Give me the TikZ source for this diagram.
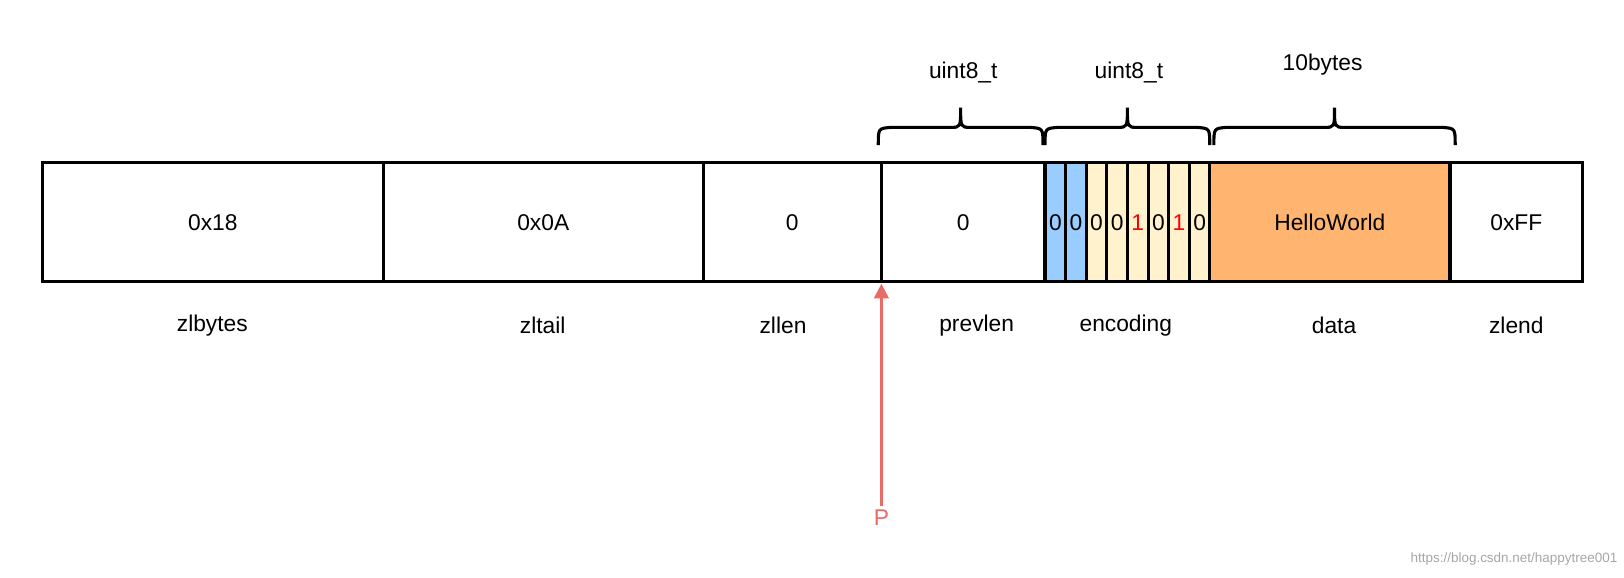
\documentclass[tikz,border=0pt]{standalone}
\usepackage{fontspec}
\usetikzlibrary{arrows.meta}
\setmainfont{Liberation Sans}
\begin{document}
\begin{tikzpicture}[x=1pt,y=-1pt,
  cell/.style={draw,line width=3pt,minimum height=115pt,inner sep=0pt,font=\fontsize{22}{26}\selectfont},
  lbl/.style={font=\fontsize{22}{26}\selectfont},
  brace/.style={line width=3pt}]
\useasboundingbox (0,0) rectangle (1568,558);
\definecolor{blu}{HTML}{99CCFF}\definecolor{crm}{HTML}{FFF2CC}\definecolor{org}{HTML}{FFB570}\definecolor{pred}{HTML}{EA6B66}
\node[cell,minimum width=329pt] (zb) at (205.5,214.5) {0x18};
\node[cell,minimum width=309pt] (zt) at (524.5,214.5) {0x0A};
\node[cell,minimum width=172pt] (zl) at (765,214.5) {0};
\node[cell,minimum width=158pt] (pl) at (930,214.5) {0};
\foreach \i/\c/\t/\col in {0/blu/0/black,1/blu/0/black,2/crm/0/black,3/crm/0/black,4/crm/1/red,5/crm/0/black,6/crm/1/red,7/crm/0/black}{
  \node[cell,fill=\c,minimum width=19.9pt,text=\col] (e\i) at (1018.95+19.9*\i,214.5) {\t};
}
\node[cell,fill=org,minimum width=232pt] (d) at (1284,214.5) {HelloWorld};
\node[cell,minimum width=128pt] (ze) at (1464,214.5) {0xFF};
\foreach \n/\x/\t in {a/205/zlbytes,b/524/zltail,c/756/zllen,d/943/prevlen,e/1087/encoding,f/1288/data,g/1464/zlend}
  \node[lbl] (l\n) at (\x,314) {\t};
\foreach \n/\a/\b in {1/848/1007,2/1009/1168,3/1172/1405}{
  \draw[brace] (\a,140) .. controls (\a,124) .. (\a+12,123) -- ({(\a+\b)/2-10},123) .. controls ({(\a+\b)/2},123) .. ({(\a+\b)/2},104) .. controls ({(\a+\b)/2},123) .. ({(\a+\b)/2+10},123) -- (\b-12,123) .. controls (\b,124) .. (\b,140);
}
\node[lbl] (u1) at (930,70) {uint8\_t};
\node[lbl] (u2) at (1090,70) {uint8\_t};
\node[lbl] (u3) at (1277,62) {10bytes};
\node[lbl,text=pred] (P) at (851,500) {P};
\coordinate (pt) at (851,274);
\draw[pred,line width=2.5pt,-{Triangle[length=14pt,width=14pt]}] (P.north) -- (pt);
\node[font=\fontsize{13}{15}\selectfont,text=black!35,anchor=east] (wm) at (1565,540) {https://blog.csdn.net/happytree001};
\end{tikzpicture}
\end{document}
